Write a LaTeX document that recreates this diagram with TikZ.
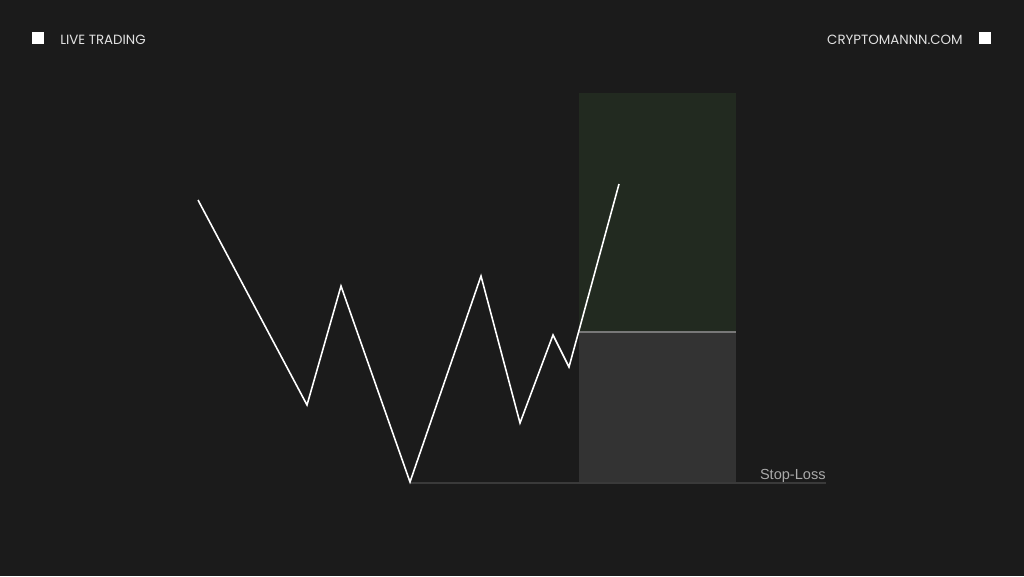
\documentclass[tikz,border=0pt]{standalone}
\usepackage{fontspec}
\setmainfont{Liberation Sans}
\newfontfamily\headfont{Poppins}
\usetikzlibrary{positioning}
\definecolor{bgdark}{RGB}{27,27,27}
\definecolor{profitgreen}{RGB}{34,42,32}
\definecolor{lossgray}{RGB}{51,51,51}
\definecolor{entrygray}{RGB}{120,120,120}
\definecolor{slgray}{RGB}{58,58,58}
\definecolor{labelgray}{RGB}{170,170,170}
\definecolor{headwhite}{RGB}{225,225,225}

\begin{document}
\begin{tikzpicture}[x=0.02cm, y=-0.02cm,
    headlabel/.style={font=\headfont\fontsize{7.6}{9}\selectfont, text=headwhite, inner sep=0pt},
    marker/.style={fill=white, minimum size=12*0.02cm, inner sep=0pt}]
    % Background
    \fill[bgdark] (0,0) rectangle (1024,576);
    \useasboundingbox (0,0) rectangle (1024,576);

    % Header
    \node[marker] (markleft) at (38,38) {};
    \node[headlabel, anchor=west] (livetrading) at (60,40) {LIVE TRADING};
    \node[marker] (markright) at (985,38) {};
    \node[headlabel, anchor=east] (site) at (963,40) {CRYPTOMANNN.COM};

    % Target and risk zones
    \fill[profitgreen] (579,93) rectangle (736,332);
    \fill[lossgray] (579,332) rectangle (736,483);
    \draw[entrygray, line width=0.8pt] (579,332) -- (736,332);

    % Stop-loss level
    \draw[slgray, line width=0.7pt] (410,483) -- (826,483);
    \node[font=\fontsize{8.3}{10}\selectfont, text=labelgray, anchor=base east, inner sep=0pt] (stoploss) at (826,479) {Stop-Loss};

    % Price path
    \draw[white, line width=0.9pt, line join=miter]
        (198,200) -- (307,405) -- (341,286) -- (410,482) -- (481,276)
        -- (520,423) -- (553,335) -- (569,367) -- (619,184);
\end{tikzpicture}
\end{document}
